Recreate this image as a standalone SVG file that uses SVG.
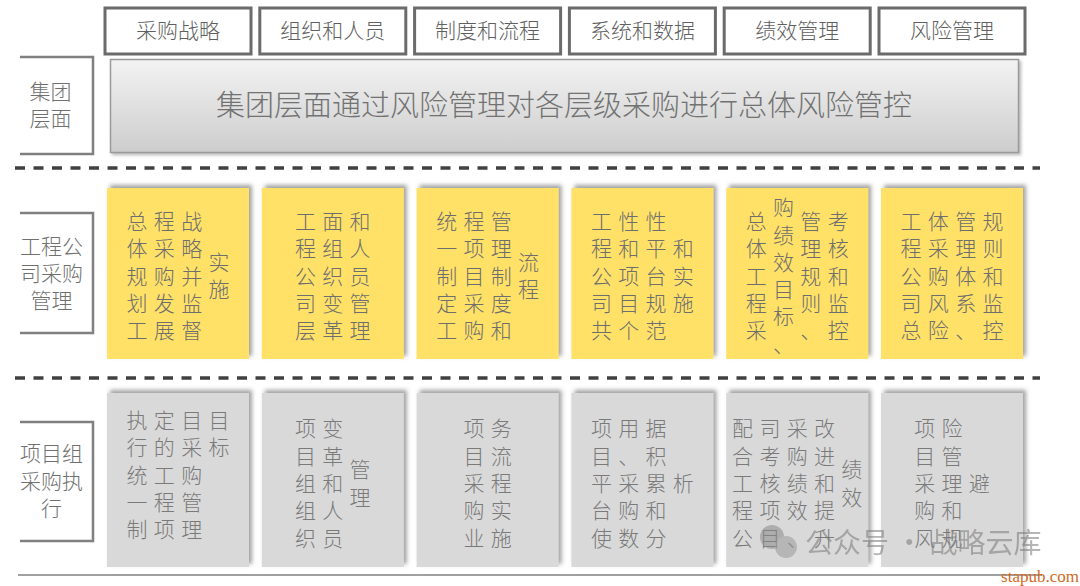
<svg xmlns="http://www.w3.org/2000/svg" width="1080" height="586" viewBox="0 0 1080 586">
<defs>
<linearGradient id="gBig" x1="0" y1="0" x2="0" y2="1">
<stop offset="0" stop-color="#f3f3f3"/>
<stop offset="1" stop-color="#cdcdcd"/>
</linearGradient>
<filter id="shUR" x="-10%" y="-10%" width="120%" height="120%">
<feGaussianBlur in="SourceAlpha" stdDeviation="2"/>
<feOffset dx="3" dy="-3" result="b"/>
<feFlood flood-color="#555" flood-opacity="0.55"/>
<feComposite in2="b" operator="in"/>
<feMerge><feMergeNode/><feMergeNode in="SourceGraphic"/></feMerge>
</filter>
<filter id="shBig" x="-5%" y="-10%" width="110%" height="125%">
<feGaussianBlur in="SourceAlpha" stdDeviation="1.5"/>
<feOffset dx="2" dy="2" result="b"/>
<feFlood flood-color="#777" flood-opacity="0.5"/>
<feComposite in2="b" operator="in"/>
<feMerge><feMergeNode/><feMergeNode in="SourceGraphic"/></feMerge>
</filter>
</defs>
<style>
text{font-family:"Noto Sans CJK SC","Noto Sans",sans-serif;font-weight:300;transform:translateY(-2px);}
.hbox{fill:#fff;stroke:#6b6b6b;stroke-width:3;}
.htxt{font-size:21px;fill:#606060;text-anchor:middle;dominant-baseline:central;}
.brk{fill:none;stroke:#808080;stroke-width:2.5;}
.ltxt{font-size:21px;fill:#707070;text-anchor:middle;dominant-baseline:central;}
.dash{stroke:#404040;stroke-width:3.5;stroke-dasharray:10 8.5;}
.ybox{fill:#ffe168;filter:url(#shUR);}
.gbox{fill:#d9d9d9;filter:url(#shUR);}
.ct{font-size:21px;text-anchor:middle;dominant-baseline:central;}
.yt{fill:#6e6e6e;}
.gt{fill:#7a7a7a;}
</style>

<g id="header">
<g id="h1"><rect class="hbox" x="105" y="8" width="146" height="46"/><text class="htxt" x="178" y="31">采购战略</text></g>
<g id="h2"><rect class="hbox" x="259.8" y="8" width="146" height="46"/><text class="htxt" x="332.8" y="31">组织和人员</text></g>
<g id="h3"><rect class="hbox" x="414.6" y="8" width="146" height="46"/><text class="htxt" x="487.6" y="31">制度和流程</text></g>
<g id="h4"><rect class="hbox" x="569.4" y="8" width="146" height="46"/><text class="htxt" x="642.4" y="31">系统和数据</text></g>
<g id="h5"><rect class="hbox" x="724.2" y="8" width="146" height="46"/><text class="htxt" x="797.2" y="31">绩效管理</text></g>
<g id="h6"><rect class="hbox" x="879" y="8" width="146" height="46"/><text class="htxt" x="952" y="31">风险管理</text></g>
</g>

<g id="labels">
<g id="l1"><polyline class="brk" points="20,57 93,57 93,154 20,154"/><text class="ltxt" x="50.5" y="92">集团</text><text class="ltxt" x="50.5" y="119">层面</text></g>
<g id="l2"><polyline class="brk" points="20,213 93,213 93,333 20,333"/><text class="ltxt" x="51.5" y="247">工程公</text><text class="ltxt" x="51.5" y="274">司采购</text><text class="ltxt" x="51.5" y="301">管理</text></g>
<g id="l3"><polyline class="brk" points="20,422 93,422 93,541 20,541"/><text class="ltxt" x="51.5" y="454">项目组</text><text class="ltxt" x="51.5" y="482">采购执</text><text class="ltxt" x="51.5" y="509">行</text></g>
</g>

<g id="group-level">
<rect x="110.5" y="59.5" width="908" height="93" fill="url(#gBig)" stroke="#9a9a9a" stroke-width="1.5" filter="url(#shBig)"/>
<text x="564" y="105" style="font-size:29px;fill:#727272;text-anchor:middle;dominant-baseline:central;">集团层面通过风险管理对各层级采购进行总体风险管控</text>
</g>

<g id="separators">
<line class="dash" x1="15" y1="168" x2="1040" y2="168"/>
<line class="dash" x1="15" y1="378" x2="1040" y2="378"/>
<line x1="18" y1="575" x2="1042" y2="575" stroke="#808080" stroke-width="1.5"/>
</g>

<g id="y1"><rect class="ybox" x="107" y="188" width="142" height="171"/>
<text class="ct yt"><tspan x="137.05" y="221.9">总</tspan><tspan x="137.05" y="249.2">体</tspan><tspan x="137.05" y="276.5">规</tspan><tspan x="137.05" y="303.8">划</tspan><tspan x="137.05" y="331.1">工</tspan></text>
<text class="ct yt"><tspan x="164.35" y="221.9">程</tspan><tspan x="164.35" y="249.2">采</tspan><tspan x="164.35" y="276.5">购</tspan><tspan x="164.35" y="303.8">发</tspan><tspan x="164.35" y="331.1">展</tspan></text>
<text class="ct yt"><tspan x="191.65" y="221.9">战</tspan><tspan x="191.65" y="249.2">略</tspan><tspan x="191.65" y="276.5">并</tspan><tspan x="191.65" y="303.8">监</tspan><tspan x="191.65" y="331.1">督</tspan></text>
<text class="ct yt"><tspan x="218.95" y="262.85">实</tspan><tspan x="218.95" y="290.15">施</tspan></text>
</g>
<g id="y2"><rect class="ybox" x="261.8" y="188" width="142" height="171"/>
<text class="ct yt"><tspan x="305.5" y="221.9">工</tspan><tspan x="305.5" y="249.2">程</tspan><tspan x="305.5" y="276.5">公</tspan><tspan x="305.5" y="303.8">司</tspan><tspan x="305.5" y="331.1">层</tspan></text>
<text class="ct yt"><tspan x="332.8" y="221.9">面</tspan><tspan x="332.8" y="249.2">组</tspan><tspan x="332.8" y="276.5">织</tspan><tspan x="332.8" y="303.8">变</tspan><tspan x="332.8" y="331.1">革</tspan></text>
<text class="ct yt"><tspan x="360.1" y="221.9">和</tspan><tspan x="360.1" y="249.2">人</tspan><tspan x="360.1" y="276.5">员</tspan><tspan x="360.1" y="303.8">管</tspan><tspan x="360.1" y="331.1">理</tspan></text>
</g>
<g id="y3"><rect class="ybox" x="416.6" y="188" width="142" height="171"/>
<text class="ct yt"><tspan x="446.65" y="221.9">统</tspan><tspan x="446.65" y="249.2">一</tspan><tspan x="446.65" y="276.5">制</tspan><tspan x="446.65" y="303.8">定</tspan><tspan x="446.65" y="331.1">工</tspan></text>
<text class="ct yt"><tspan x="473.95" y="221.9">程</tspan><tspan x="473.95" y="249.2">项</tspan><tspan x="473.95" y="276.5">目</tspan><tspan x="473.95" y="303.8">采</tspan><tspan x="473.95" y="331.1">购</tspan></text>
<text class="ct yt"><tspan x="501.25" y="221.9">管</tspan><tspan x="501.25" y="249.2">理</tspan><tspan x="501.25" y="276.5">制</tspan><tspan x="501.25" y="303.8">度</tspan><tspan x="501.25" y="331.1">和</tspan></text>
<text class="ct yt"><tspan x="528.55" y="262.85">流</tspan><tspan x="528.55" y="290.15">程</tspan></text>
</g>
<g id="y4"><rect class="ybox" x="571.4" y="188" width="142" height="171"/>
<text class="ct yt"><tspan x="601.45" y="221.9">工</tspan><tspan x="601.45" y="249.2">程</tspan><tspan x="601.45" y="276.5">公</tspan><tspan x="601.45" y="303.8">司</tspan><tspan x="601.45" y="331.1">共</tspan></text>
<text class="ct yt"><tspan x="628.75" y="221.9">性</tspan><tspan x="628.75" y="249.2">和</tspan><tspan x="628.75" y="276.5">项</tspan><tspan x="628.75" y="303.8">目</tspan><tspan x="628.75" y="331.1">个</tspan></text>
<text class="ct yt"><tspan x="656.05" y="221.9">性</tspan><tspan x="656.05" y="249.2">平</tspan><tspan x="656.05" y="276.5">台</tspan><tspan x="656.05" y="303.8">规</tspan><tspan x="656.05" y="331.1">范</tspan></text>
<text class="ct yt"><tspan x="683.35" y="249.2">和</tspan><tspan x="683.35" y="276.5">实</tspan><tspan x="683.35" y="303.8">施</tspan></text>
</g>
<g id="y5"><rect class="ybox" x="726.2" y="188" width="142" height="171"/>
<text class="ct yt"><tspan x="756.25" y="221.9">总</tspan><tspan x="756.25" y="249.2">体</tspan><tspan x="756.25" y="276.5">工</tspan><tspan x="756.25" y="303.8">程</tspan><tspan x="756.25" y="331.1">采</tspan></text>
<text class="ct yt"><tspan x="783.55" y="208.25">购</tspan><tspan x="783.55" y="235.55">绩</tspan><tspan x="783.55" y="262.85">效</tspan><tspan x="783.55" y="290.15">目</tspan><tspan x="783.55" y="317.45">标</tspan><tspan x="783.55" y="344.75">、</tspan></text>
<text class="ct yt"><tspan x="810.85" y="221.9">管</tspan><tspan x="810.85" y="249.2">理</tspan><tspan x="810.85" y="276.5">规</tspan><tspan x="810.85" y="303.8">则</tspan><tspan x="810.85" y="331.1">、</tspan></text>
<text class="ct yt"><tspan x="838.15" y="221.9">考</tspan><tspan x="838.15" y="249.2">核</tspan><tspan x="838.15" y="276.5">和</tspan><tspan x="838.15" y="303.8">监</tspan><tspan x="838.15" y="331.1">控</tspan></text>
</g>
<g id="y6"><rect class="ybox" x="881" y="188" width="142" height="171"/>
<text class="ct yt"><tspan x="911.05" y="221.9">工</tspan><tspan x="911.05" y="249.2">程</tspan><tspan x="911.05" y="276.5">公</tspan><tspan x="911.05" y="303.8">司</tspan><tspan x="911.05" y="331.1">总</tspan></text>
<text class="ct yt"><tspan x="938.35" y="221.9">体</tspan><tspan x="938.35" y="249.2">采</tspan><tspan x="938.35" y="276.5">购</tspan><tspan x="938.35" y="303.8">风</tspan><tspan x="938.35" y="331.1">险</tspan></text>
<text class="ct yt"><tspan x="965.65" y="221.9">管</tspan><tspan x="965.65" y="249.2">理</tspan><tspan x="965.65" y="276.5">体</tspan><tspan x="965.65" y="303.8">系</tspan><tspan x="965.65" y="331.1">、</tspan></text>
<text class="ct yt"><tspan x="992.95" y="221.9">规</tspan><tspan x="992.95" y="249.2">则</tspan><tspan x="992.95" y="276.5">和</tspan><tspan x="992.95" y="303.8">监</tspan><tspan x="992.95" y="331.1">控</tspan></text>
</g>

<g id="g1"><rect class="gbox" x="107" y="393" width="142" height="174"/>
<text class="ct gt"><tspan x="137.05" y="420.9">执</tspan><tspan x="137.05" y="448.2">行</tspan><tspan x="137.05" y="475.5">统</tspan><tspan x="137.05" y="502.8">一</tspan><tspan x="137.05" y="530.1">制</tspan></text>
<text class="ct gt"><tspan x="164.35" y="420.9">定</tspan><tspan x="164.35" y="448.2">的</tspan><tspan x="164.35" y="475.5">工</tspan><tspan x="164.35" y="502.8">程</tspan><tspan x="164.35" y="530.1">项</tspan></text>
<text class="ct gt"><tspan x="191.65" y="420.9">目</tspan><tspan x="191.65" y="448.2">采</tspan><tspan x="191.65" y="475.5">购</tspan><tspan x="191.65" y="502.8">管</tspan><tspan x="191.65" y="530.1">理</tspan></text>
<text class="ct gt"><tspan x="218.95" y="420.9">目</tspan><tspan x="218.95" y="448.2">标</tspan></text>
</g>
<g id="g2"><rect class="gbox" x="261.8" y="393" width="142" height="174"/>
<text class="ct gt"><tspan x="305.5" y="429.4">项</tspan><tspan x="305.5" y="456.7">目</tspan><tspan x="305.5" y="484">组</tspan><tspan x="305.5" y="511.3">组</tspan><tspan x="305.5" y="538.6">织</tspan></text>
<text class="ct gt"><tspan x="332.8" y="429.4">变</tspan><tspan x="332.8" y="456.7">革</tspan><tspan x="332.8" y="484">和</tspan><tspan x="332.8" y="511.3">人</tspan><tspan x="332.8" y="538.6">员</tspan></text>
<text class="ct gt"><tspan x="360.1" y="470.35">管</tspan><tspan x="360.1" y="497.65">理</tspan></text>
</g>
<g id="g3"><rect class="gbox" x="416.6" y="393" width="142" height="174"/>
<text class="ct gt"><tspan x="473.95" y="429.4">项</tspan><tspan x="473.95" y="456.7">目</tspan><tspan x="473.95" y="484">采</tspan><tspan x="473.95" y="511.3">购</tspan><tspan x="473.95" y="538.6">业</tspan></text>
<text class="ct gt"><tspan x="501.25" y="429.4">务</tspan><tspan x="501.25" y="456.7">流</tspan><tspan x="501.25" y="484">程</tspan><tspan x="501.25" y="511.3">实</tspan><tspan x="501.25" y="538.6">施</tspan></text>
</g>
<g id="g4"><rect class="gbox" x="571.4" y="393" width="142" height="174"/>
<text class="ct gt"><tspan x="601.45" y="429.4">项</tspan><tspan x="601.45" y="456.7">目</tspan><tspan x="601.45" y="484">平</tspan><tspan x="601.45" y="511.3">台</tspan><tspan x="601.45" y="538.6">使</tspan></text>
<text class="ct gt"><tspan x="628.75" y="429.4">用</tspan><tspan x="628.75" y="456.7">、</tspan><tspan x="628.75" y="484">采</tspan><tspan x="628.75" y="511.3">购</tspan><tspan x="628.75" y="538.6">数</tspan></text>
<text class="ct gt"><tspan x="656.05" y="429.4">据</tspan><tspan x="656.05" y="456.7">积</tspan><tspan x="656.05" y="484">累</tspan><tspan x="656.05" y="511.3">和</tspan><tspan x="656.05" y="538.6">分</tspan></text>
<text class="ct gt"><tspan x="683.35" y="484">析</tspan></text>
</g>
<g id="g5"><rect class="gbox" x="726.2" y="393" width="142" height="174"/>
<text class="ct gt"><tspan x="742.6" y="429.4">配</tspan><tspan x="742.6" y="456.7">合</tspan><tspan x="742.6" y="484">工</tspan><tspan x="742.6" y="511.3">程</tspan><tspan x="742.6" y="538.6">公</tspan></text>
<text class="ct gt"><tspan x="769.9" y="429.4">司</tspan><tspan x="769.9" y="456.7">考</tspan><tspan x="769.9" y="484">核</tspan><tspan x="769.9" y="511.3">项</tspan><tspan x="769.9" y="538.6">目</tspan></text>
<text class="ct gt"><tspan x="797.2" y="429.4">采</tspan><tspan x="797.2" y="456.7">购</tspan><tspan x="797.2" y="484">绩</tspan><tspan x="797.2" y="511.3">效</tspan><tspan x="797.2" y="538.6">、</tspan></text>
<text class="ct gt"><tspan x="824.5" y="429.4">改</tspan><tspan x="824.5" y="456.7">进</tspan><tspan x="824.5" y="484">和</tspan><tspan x="824.5" y="511.3">提</tspan><tspan x="824.5" y="538.6">升</tspan></text>
<text class="ct gt"><tspan x="851.8" y="470.35">绩</tspan><tspan x="851.8" y="497.65">效</tspan></text>
</g>
<g id="g6"><rect class="gbox" x="881" y="393" width="142" height="174"/>
<text class="ct gt"><tspan x="924.7" y="429.4">项</tspan><tspan x="924.7" y="456.7">目</tspan><tspan x="924.7" y="484">采</tspan><tspan x="924.7" y="511.3">购</tspan><tspan x="924.7" y="538.6">风</tspan></text>
<text class="ct gt"><tspan x="952" y="429.4">险</tspan><tspan x="952" y="456.7">管</tspan><tspan x="952" y="484">理</tspan><tspan x="952" y="511.3">和</tspan><tspan x="952" y="538.6">规</tspan></text>
<text class="ct gt"><tspan x="979.3" y="484">避</tspan></text>
</g>

<g id="watermark" opacity="0.55">
<circle cx="772" cy="537" r="12" fill="#8a8a8a"/>
<circle cx="786" cy="547" r="11" fill="#9a9a9a"/>
<text x="805" y="543" style="font-size:28px;font-weight:400;fill:#7a7a7a;dominant-baseline:central;">公众号 · 战略云库</text>
</g>
<text x="1079" y="584" style="font-family:'Liberation Serif',serif;font-weight:400;font-size:17px;fill:#d2691e;text-anchor:end;">stapub.com</text>
</svg>
